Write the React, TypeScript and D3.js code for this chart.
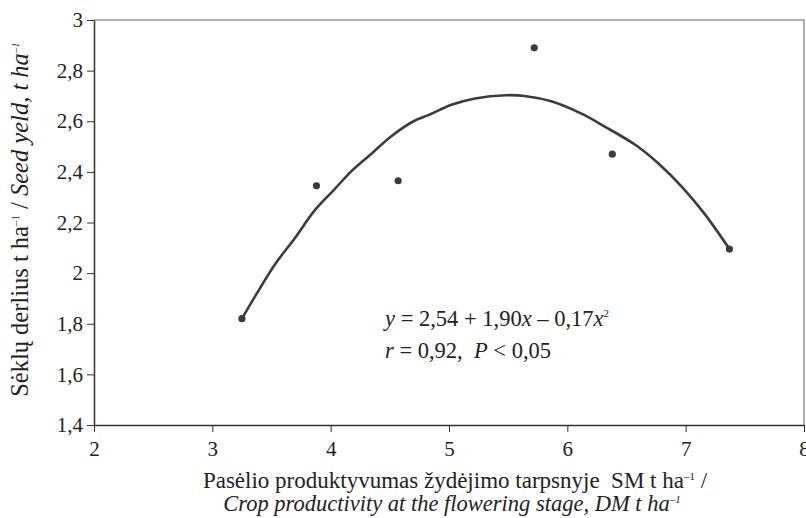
import { useEffect, useRef } from 'react';
import * as d3 from 'd3';

// observed points (crop productivity DM t/ha, seed yield t/ha)
const pointX = [3.25, 3.88, 4.57, 5.72, 6.38, 7.37];
const pointY = [1.82, 2.345, 2.365, 2.89, 2.47, 2.095];

// fitted curve
const curveX = [3.25, 3.37, 3.53, 3.7, 3.86, 4.02, 4.18, 4.34, 4.51, 4.7, 4.83, 5.02, 5.22, 5.48, 5.64, 5.87, 6.12, 6.32, 6.58, 6.77, 6.97, 7.16, 7.37];
const curveY = [1.82, 1.915, 2.035, 2.14, 2.245, 2.325, 2.405, 2.47, 2.54, 2.6, 2.625, 2.665, 2.69, 2.703, 2.7, 2.678, 2.63, 2.578, 2.505, 2.433, 2.34, 2.234, 2.095];

const xTicks = [2, 3, 4, 5, 6, 7, 8];
const yTicks = [1.4, 1.6, 1.8, 2, 2.2, 2.4, 2.6, 2.8, 3];

const FONT = 'Times New Roman, Liberation Serif, DejaVu Serif, serif';
const INK = '#333';

export default function App() {
  const svgRef = useRef<SVGSVGElement | null>(null);

  useEffect(() => {
    if (!svgRef.current) return;
    const W = 806;
    const H = 518;
    const M = { top: 20, right: 2, bottom: 93, left: 94 };

    const svg = d3.select(svgRef.current);
    svg.selectAll('*').remove();

    const x = d3.scaleLinear().domain([2, 8]).range([M.left, W - M.right]);
    const y = d3.scaleLinear().domain([1.4, 3]).range([H - M.bottom, M.top]);
    const fmt = (d: number) => String(d).replace('.', ',');

    // plot frame (top + right in gray)
    svg.append('path')
      .attr('d', `M${x(2)},${y(3)}H${x(8)}V${y(1.4)}`)
      .attr('fill', 'none')
      .attr('stroke', '#999')
      .attr('stroke-width', 1.5);

    // y axis
    const yAxis = svg.append('g')
      .attr('transform', `translate(${x(2)},0)`)
      .call(d3.axisLeft(y).tickValues(yTicks).tickSize(7).tickSizeOuter(0).tickFormat(d => fmt(+d)));
    yAxis.attr('font-family', FONT).attr('font-size', 21);
    yAxis.select('.domain').attr('stroke', INK).attr('stroke-width', 1.5);
    yAxis.selectAll('.tick line').attr('stroke', INK).attr('stroke-width', 1);
    yAxis.selectAll('.tick text').attr('fill', '#222').attr('x', -11);

    // x axis
    const xAxis = svg.append('g')
      .attr('transform', `translate(0,${y(1.4)})`)
      .call(d3.axisBottom(x).tickValues(xTicks).tickSize(7).tickSizeOuter(0).tickFormat(d => fmt(+d)));
    xAxis.attr('font-family', FONT).attr('font-size', 21);
    xAxis.select('.domain').attr('stroke', INK).attr('stroke-width', 1.5);
    xAxis.selectAll('.tick line').attr('stroke', INK).attr('stroke-width', 1);
    xAxis.selectAll('.tick text').attr('fill', '#222').attr('y', 16);

    // fitted curve
    const line = d3.line<number>()
      .x((_, i) => x(curveX[i]))
      .y(d => y(d))
      .curve(d3.curveCatmullRom);
    svg.append('path')
      .datum(curveY)
      .attr('d', line)
      .attr('fill', 'none')
      .attr('stroke', '#3a3d3d')
      .attr('stroke-width', 2.6);

    // observed points
    svg.append('g')
      .selectAll('circle')
      .data(pointY)
      .join('circle')
      .attr('cx', (_, i) => x(pointX[i]))
      .attr('cy', d => y(d))
      .attr('r', 3.6)
      .attr('fill', '#3a3d3d');

    const txt = (xp: number, yp: number, size: number) =>
      svg.append('text')
        .attr('x', xp).attr('y', yp)
        .attr('font-family', FONT).attr('font-size', size)
        .attr('fill', '#222')
        .style('white-space', 'pre');

    // equation
    const eq = txt(385, 326, 22.5);
    eq.append('tspan').attr('font-style', 'italic').text('y');
    eq.append('tspan').text(' = 2,54 + 1,90');
    eq.append('tspan').attr('font-style', 'italic').text('x');
    eq.append('tspan').text(' – 0,17');
    eq.append('tspan').attr('font-style', 'italic').text('x');
    eq.append('tspan').attr('font-size', 11).attr('dy', -9).text('2');

    const rr = txt(385, 358, 22.5);
    rr.append('tspan').attr('font-style', 'italic').text('r');
    rr.append('tspan').text(' = 0,92,  ');
    rr.append('tspan').attr('font-style', 'italic').text('P');
    rr.append('tspan').text(' < 0,05');

    // x title
    const xt1 = txt(455, 488, 23).attr('text-anchor', 'middle');
    xt1.append('tspan').text('Pasėlio produktyvumas žydėjimo tarpsnyje  SM t ha');
    xt1.append('tspan').attr('font-size', 11).attr('dy', -8).text('–1');
    xt1.append('tspan').attr('dy', 8).text(' /');

    const xt2 = txt(452, 511, 22.5).attr('text-anchor', 'middle').attr('font-style', 'italic');
    xt2.append('tspan').text('Crop productivity at the flowering stage, DM t ha');
    xt2.append('tspan').attr('font-size', 11).attr('dy', -8).text('–1');

    // y title
    const yt = txt(0, 0, 24.5)
      .attr('transform', `translate(28,${(y(1.4) + y(3)) / 2 - 3}) rotate(-90)`)
      .attr('text-anchor', 'middle');
    yt.append('tspan').text('Sėklų derlius t ha');
    yt.append('tspan').attr('font-size', 11).attr('dy', -9).text('–1');
    yt.append('tspan').attr('dy', 9).text(' / ');
    yt.append('tspan').attr('font-style', 'italic').text('Seed yeld, t ha');
    yt.append('tspan').attr('font-style', 'italic').attr('font-size', 11).attr('dy', -9).text('–1');
  }, []);

  return (
    <svg
      ref={svgRef}
      width={806}
      height={518}
      style={{ display: 'block', position: 'absolute', left: 0, top: 0, background: '#fff' }}
    />
  );
}
